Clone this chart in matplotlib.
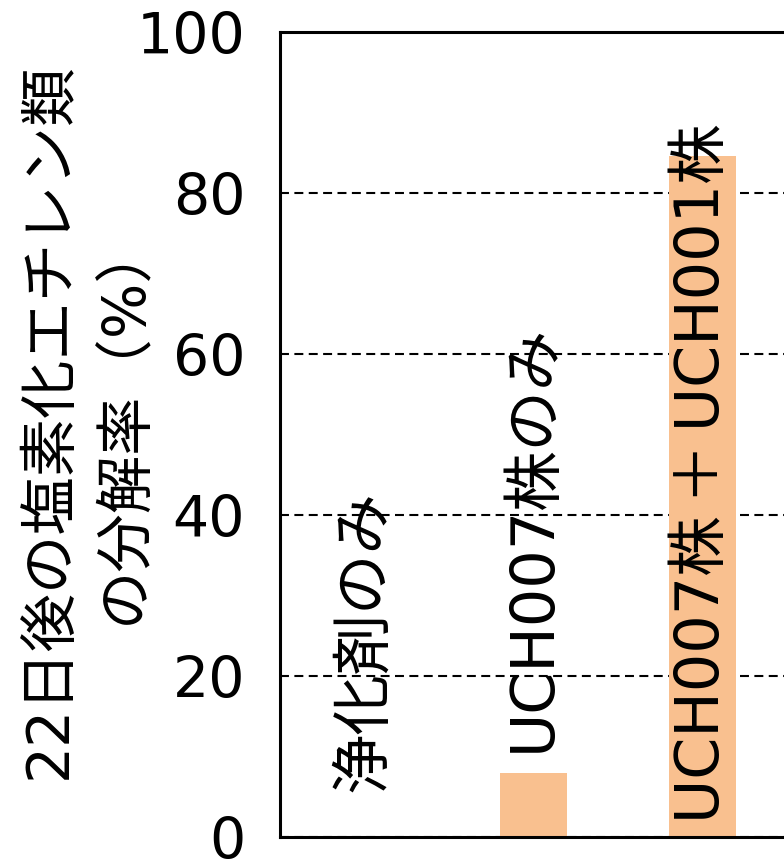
import matplotlib
matplotlib.use('Agg')
import matplotlib.pyplot as plt

# 英数字は DejaVu Sans、かなと漢字は Noto Sans CJK JP
plt.rcParams['font.family'] = ['DejaVu Sans', 'Noto Sans CJK JP']

# 分解率データ
categories = ['浄化剤のみ', 'UCH007株のみ', 'UCH007株\u2009＋\u2009UCH001株']
rates = [0, 8, 84.6]
label_y = [5.6, 10.6, 1.8]   # ラベルの書き出し位置 (%)
yticks = [0, 20, 40, 60, 80, 100]

fig = plt.figure(figsize=(7.84, 8.65), dpi=100)
ax = fig.add_axes([0.357, 0.0318, 0.75, 0.931])

x = list(range(len(categories)))
ax.bar(x, rates, width=0.4, color='#F9C08F', zorder=2)

for xi, name, ly in zip(x, categories, label_y):
    ax.text(xi, ly, name, rotation=90, ha='center', va='bottom',
            fontsize=43.5, zorder=3)

ax.set_xlim(-0.5, 2.98)
ax.set_ylim(0, 100)
ax.set_yticks(yticks)
ax.set_xticks([])
ax.tick_params(axis='y', length=0, pad=25, labelsize=41)

ax.yaxis.grid(True, linestyle=(0, (4.3, 2.6)), color='black', linewidth=1.5, zorder=1)
ax.set_axisbelow(True)

for s in ax.spines.values():
    s.set_linewidth(2.2)
ax.spines['right'].set_visible(False)

fig.text(0.111, 0.513, '22日後の塩素化エチレン類\nの分解率（%）', rotation=90,
         ha='center', va='center', multialignment='center',
         fontsize=42, linespacing=1.4)

fig.savefig('out.png', dpi=100)
